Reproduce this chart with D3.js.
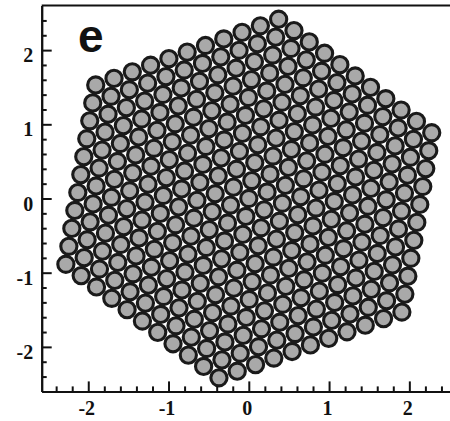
<!DOCTYPE html>
<html>
<head>
<meta charset="utf-8">
<script src="https://cdn.jsdelivr.net/npm/d3@7/dist/d3.min.js"></script>
<style>
  html, body { margin: 0; padding: 0; background: #fff; }
  svg { display: block; }
</style>
</head>
<body>
<svg id="chart" width="450" height="421"></svg>
<script>
// Triangular-lattice cluster: rows of sites along the second lattice vector.
// Each row j holds rowCount sites starting at lattice index rowFirstI.
const rowJ      = [-10, -9, -8, -7, -6, -5, -4, -3, -2, -1, 0, 1, 2, 3, 4, 5, 6, 7, 8, 9, 10];
const rowFirstI = [0, -1, -2, -3, -4, -5, -6, -7, -8, -9, -10, -10, -10, -10, -10, -10, -10, -10, -10, -10, -10];
const rowCount  = [11, 12, 13, 14, 15, 16, 17, 18, 19, 20, 21, 20, 19, 18, 17, 16, 15, 14, 13, 12, 11];
const latticeConstant = 0.2445;   // nearest-neighbour distance
const latticeAngleDeg = 21.25;    // orientation of the first lattice vector

const xTicks = [-2, -1, 0, 1, 2];
const yTicks = [-2, -1, 0, 1, 2];
const minorTicks = [-2.4, -2.2, -1.8, -1.6, -1.4, -1.2, -0.8, -0.6, -0.4, -0.2,
                    0.2, 0.4, 0.6, 0.8, 1.2, 1.4, 1.6, 1.8, 2.2, 2.4];
const panelLabel = "e";

const svg = d3.select("#chart");

const x = d3.scaleLinear().domain([-2.58, 2.58]).range([41.7, 455.9]);
const y = d3.scaleLinear().domain([-2.6, 2.6]).range([391.4, 5.6]);

// lattice basis vectors in data units
const th = latticeAngleDeg * Math.PI / 180;
const a1 = [latticeConstant * Math.cos(th), latticeConstant * Math.sin(th)];
const a2 = [latticeConstant * Math.cos(th + Math.PI / 3), latticeConstant * Math.sin(th + Math.PI / 3)];

const sites = [];
rowJ.forEach((j, r) => {
  for (let k = 0; k < rowCount[r]; k++) {
    const i = rowFirstI[r] + k;
    sites.push({ px: i * a1[0] + j * a2[0], py: i * a1[1] + j * a2[1] });
  }
});

svg.append("g")
  .selectAll("circle")
  .data(sites)
  .join("circle")
  .attr("cx", d => x(d.px))
  .attr("cy", d => y(d.py))
  .attr("r", 8.1)
  .attr("fill", "#a9a9a9")
  .attr("stroke", "#1a1a1a")
  .attr("stroke-width", 3.1);

// frame: top edge
svg.append("line")
  .attr("x1", x.range()[0]).attr("x2", 450)
  .attr("y1", y.range()[1]).attr("y2", y.range()[1])
  .attr("stroke", "#111").attr("stroke-width", 2);

const labelFont = g => g.selectAll("text")
  .attr("font-family", "'Liberation Serif', 'Times New Roman', serif")
  .attr("font-weight", "bold")
  .attr("font-size", 20)
  .attr("fill", "#111");

const styleLines = g => {
  g.selectAll("line").attr("stroke", "#111").attr("stroke-width", 2);
  g.select(".domain").attr("stroke", "#111").attr("stroke-width", 2);
};

// bottom axis: minor then major ticks, pointing inward
svg.append("g")
  .attr("transform", `translate(0,${y.range()[0]})`)
  .call(d3.axisBottom(x).tickValues(minorTicks).tickSize(-5).tickSizeOuter(0).tickFormat(""))
  .call(styleLines);

svg.append("g")
  .attr("transform", `translate(0,${y.range()[0]})`)
  .call(d3.axisBottom(x).tickValues(xTicks).tickSize(-10).tickSizeOuter(0).tickPadding(9.5).tickFormat(d3.format("d")))
  .call(styleLines)
  .call(labelFont)
  .call(g => g.selectAll("text").text(d => String(d)).attr("dx", "-0.1em"));

// left axis
svg.append("g")
  .attr("transform", `translate(${x.range()[0]},0)`)
  .call(d3.axisLeft(y).tickValues(minorTicks).tickSize(-5).tickSizeOuter(0).tickFormat(""))
  .call(styleLines);

svg.append("g")
  .attr("transform", `translate(${x.range()[0]},0)`)
  .call(d3.axisLeft(y).tickValues(yTicks).tickSize(-10).tickSizeOuter(0).tickPadding(8.5))
  .call(styleLines)
  .call(labelFont)
  .call(g => g.selectAll("text").text(d => String(d)).attr("dy", "0.58em"));

svg.append("text")
  .attr("x", 78)
  .attr("y", 51.5)
  .attr("font-family", "'Liberation Sans', Arial, sans-serif")
  .attr("font-weight", "bold")
  .attr("font-size", 46)
  .attr("fill", "#111")
  .text(panelLabel);
</script>
</body>
</html>
